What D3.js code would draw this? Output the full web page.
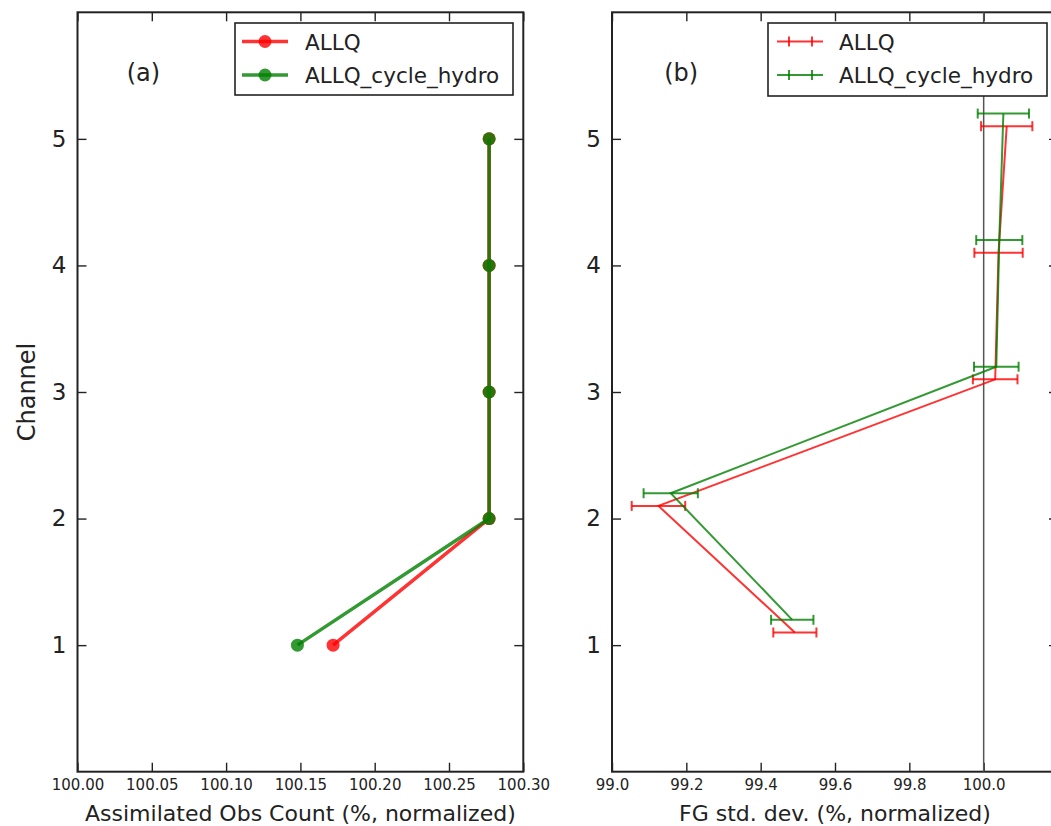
<!DOCTYPE html>
<html><head><meta charset="utf-8">
<script src="https://cdn.jsdelivr.net/npm/d3@7"></script>
<style>
body{margin:0;background:#fff;}
text{font-family:"DejaVu Sans",sans-serif;fill:#222;}
</style></head>
<body><svg id="c" width="1051" height="826"></svg>
<script>
// ---- data ----
const channels = [1, 2, 3, 4, 5];
const seriesNames = ["ALLQ", "ALLQ_cycle_hydro"];
const countALLQ  = [100.172, 100.277, 100.277, 100.277, 100.277];
const countHydro = [100.148, 100.277, 100.277, 100.277, 100.277];
const stdALLQ     = [99.492, 99.125, 100.031, 100.040, 100.062];
const stdALLQErr  = [0.058, 0.072, 0.060, 0.065, 0.069];
const stdHydro    = [99.485, 99.158, 100.034, 100.042, 100.053];
const stdHydroErr = [0.057, 0.073, 0.060, 0.062, 0.069];
const channelOffsets = [0.1, 0.2];
const yTicks = [1, 2, 3, 4, 5];
const xTicksA = [100.00, 100.05, 100.10, 100.15, 100.20, 100.25, 100.30];
const xTicksB = [99.0, 99.2, 99.4, 99.6, 99.8, 100.0];
const refLine = 100.0;

// ---- layout ----
const svg = d3.select("#c");
const yTop = 12.3, yBot = 771.7;
const colors = ["rgba(255,0,0,0.8)", "rgba(0,128,0,0.8)"];
const y = d3.scaleLinear().domain([0, 6]).range([yBot, yTop]);
const xA = d3.scaleLinear().domain([100.0, 100.3]).range([77.5, 523.3]);
const xB = d3.scaleLinear().domain([99.0, 100.2]).range([612, 1058]);

function frame(x, fmt, ticks, xlabel, tag, tagFrac) {
  const g = svg.append("g");
  const [x0, x1] = x.range();
  const gb = g.append("g").attr("transform", `translate(0,${yBot})`)
    .call(d3.axisBottom(x).tickValues(ticks).tickFormat(d3.format(fmt)).tickSizeInner(-9).tickSizeOuter(0).tickPadding(8));
  gb.selectAll("text").style("font-size", "15px").attr("fill", "#222");
  g.append("g").attr("transform", `translate(0,${yTop})`)
    .call(d3.axisTop(x).tickValues(ticks).tickFormat("").tickSizeInner(-9).tickSizeOuter(0));
  const gl = g.append("g").attr("transform", `translate(${x0},0)`)
    .call(d3.axisLeft(y).tickValues(yTicks).tickFormat(d3.format("d")).tickSizeInner(-9).tickSizeOuter(0).tickPadding(11));
  gl.selectAll("text").style("font-size", "23px").attr("fill", "#222");
  g.append("g").attr("transform", `translate(${x1},0)`)
    .call(d3.axisRight(y).tickValues(yTicks).tickFormat("").tickSizeInner(-9).tickSizeOuter(0));
  g.selectAll(".domain").remove();
  g.selectAll(".tick line").attr("stroke", "#222").attr("stroke-width", 1.4);
  g.append("rect").attr("x", x0).attr("y", yTop).attr("width", x1 - x0).attr("height", yBot - yTop)
    .attr("fill", "none").attr("stroke", "#222").attr("stroke-width", 2);
  g.append("text").attr("x", (x0 + x1) / 2).attr("y", 821).attr("text-anchor", "middle")
    .style("font-size", "22px").text(xlabel);
  g.append("text").attr("x", x0 + (x1 - x0) * tagFrac).attr("y", 81).attr("text-anchor", "middle")
    .style("font-size", "24px").text(tag);
  return g;
}

// ---- panel (a) ----
frame(xA, ".2f", xTicksA, "Assimilated Obs Count (%, normalized)", "(a)", 0.148);
svg.append("text").attr("transform", `translate(35,${(yTop + yBot) / 2}) rotate(-90)`)
  .attr("text-anchor", "middle").style("font-size", "24px").text("Channel");

const countSeries = [countALLQ, countHydro];
countSeries.forEach((vals, i) => {
  const pts = channels.map((c, k) => [xA(vals[k]), y(c)]);
  svg.append("path").attr("d", d3.line()(pts)).attr("fill", "none")
    .attr("stroke", colors[i]).attr("stroke-width", 3.5);
  svg.selectAll(null).data(pts).enter().append("circle")
    .attr("cx", d => d[0]).attr("cy", d => d[1]).attr("r", 6.5).attr("fill", colors[i]);
});

// legend (a)
const lgA = svg.append("g");
lgA.append("rect").attr("x", 235).attr("y", 23).attr("width", 278).attr("height", 72)
  .attr("fill", "#fff").attr("stroke", "#222").attr("stroke-width", 1.6);
seriesNames.forEach((n, i) => {
  const yy = 41.5 + i * 33.5;
  lgA.append("line").attr("x1", 242).attr("x2", 288).attr("y1", yy).attr("y2", yy)
    .attr("stroke", colors[i]).attr("stroke-width", 3.5);
  lgA.append("circle").attr("cx", 265).attr("cy", yy).attr("r", 6.5).attr("fill", colors[i]);
  lgA.append("text").attr("x", 305).attr("y", yy + 8).style("font-size", "21.5px").text(n);
});

// ---- panel (b) ----
frame(xB, ".1f", xTicksB, "FG std. dev. (%, normalized)", "(b)", 0.155);
svg.append("line").attr("x1", xB(refLine)).attr("x2", xB(refLine)).attr("y1", yTop).attr("y2", yBot)
  .attr("stroke", "#555").attr("stroke-width", 1.5);

const stdSeries = [[stdALLQ, stdALLQErr], [stdHydro, stdHydroErr]];
stdSeries.forEach(([vals, errs], i) => {
  const yc = channels.map(c => y(c + channelOffsets[i]));
  const pts = channels.map((c, k) => [xB(vals[k]), yc[k]]);
  svg.append("path").attr("d", d3.line()(pts)).attr("fill", "none")
    .attr("stroke", colors[i]).attr("stroke-width", 2);
  channels.forEach((c, k) => {
    const xl = xB(vals[k] - errs[k]), xr = xB(vals[k] + errs[k]);
    svg.append("line").attr("x1", xl).attr("x2", xr).attr("y1", yc[k]).attr("y2", yc[k])
      .attr("stroke", colors[i]).attr("stroke-width", 2);
    [xl, xr].forEach(xx => svg.append("line").attr("x1", xx).attr("x2", xx)
      .attr("y1", yc[k] - 5).attr("y2", yc[k] + 5).attr("stroke", colors[i]).attr("stroke-width", 2));
  });
});

// legend (b)
const lgB = svg.append("g");
lgB.append("rect").attr("x", 768).attr("y", 23).attr("width", 279).attr("height", 73)
  .attr("fill", "#fff").attr("stroke", "#222").attr("stroke-width", 1.6);
seriesNames.forEach((n, i) => {
  const yy = 41.5 + i * 33.5;
  lgB.append("line").attr("x1", 777).attr("x2", 823).attr("y1", yy).attr("y2", yy)
    .attr("stroke", colors[i]).attr("stroke-width", 2);
  [789, 812].forEach(xx => lgB.append("line").attr("x1", xx).attr("x2", xx)
    .attr("y1", yy - 5).attr("y2", yy + 5).attr("stroke", colors[i]).attr("stroke-width", 2));
  lgB.append("text").attr("x", 839).attr("y", yy + 8).style("font-size", "21.5px").text(n);
});
</script></body></html>
